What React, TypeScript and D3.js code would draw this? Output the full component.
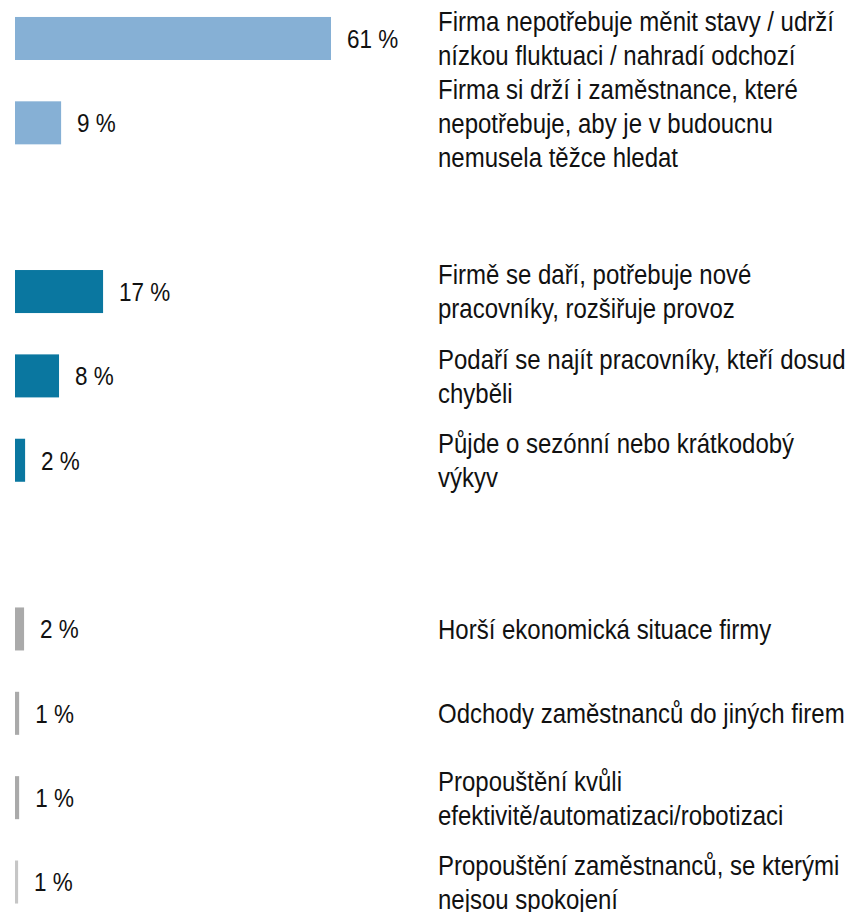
import React from "react";
import * as d3 from "d3";

const slots = ["c1", "c2", "gap1", "c3", "c4", "c5", "gap2", "c6", "c7", "c8", "c9"];
const categories = ["c1", "c2", "c3", "c4", "c5", "c6", "c7", "c8", "c9"];
const values = [61, 8.9, 17, 8.5, 1.95, 1.75, 0.8, 0.8, 0.6];
const valueLabels = ["61 %", "9 %", "17 %", "8 %", "2 %", "2 %", "1 %", "1 %", "1 %"];
const groups = ["stable", "stable", "growth", "growth", "growth", "decline", "decline", "decline", "decline2"];
const labels = [
  "Firma nepotřebuje měnit stavy / udrží\nnízkou fluktuaci / nahradí odchozí",
  "Firma si drží i zaměstnance, které\nnepotřebuje, aby je v budoucnu\nnemusela těžce hledat",
  "Firmě se daří, potřebuje nové\npracovníky, rozšiřuje provoz",
  "Podaří se najít pracovníky, kteří dosud\nchyběli",
  "Půjde o sezónní nebo krátkodobý\nvýkyv",
  "Horší ekonomická situace firmy",
  "Odchody zaměstnanců do jiných firem",
  "Propouštění kvůli\nefektivitě/automatizaci/robotizaci",
  "Propouštění zaměstnanců, se kterými\nnejsou spokojení",
];

const colors: Record<string, string> = {
  stable: "#86B0D5",
  growth: "#0A77A0",
  decline: "#AAAAAA",
  decline2: "#C6C6C6",
};

const W = 851;
const H = 912;

export default function App() {
  const y = d3
    .scaleBand<string>()
    .domain(slots)
    .range([-3.7, 924.2])
    .paddingInner(0.49)
    .paddingOuter(0.245);
  const x = d3.scaleLinear().domain([0, 61]).range([15, 331]);
  const labelX = 438;
  const lineH = 34;
  const sy = 1.18;
  const font = "'Liberation Sans', Arial, Helvetica, sans-serif";

  return (
    <div style={{ position: "absolute", left: 0, top: 0 }}>
      <svg width={W} height={H} style={{ display: "block", background: "#fff" }}>
        {categories.map((c, i) => {
          const y0 = y(c)!;
          const cy = y0 + y.bandwidth() / 2;
          const lines = labels[i].split("\n");
          return (
            <g key={c}>
              <rect
                x={x(0)}
                y={y0}
                width={x(values[i]) - x(0)}
                height={y.bandwidth()}
                fill={colors[groups[i]]}
              />
              <g transform={`translate(${x(values[i]) + 16},${cy}) scale(1,${sy})`}>
                <text x={0} y={0} dy="0.35em" fontFamily={font} fontSize={22.5} fill="#111">
                  {valueLabels[i]}
                </text>
              </g>
              <g transform={`translate(${labelX},${cy}) scale(1,${sy})`}>
                <text fontFamily={font} fontSize={24} fill="#111">
                  {lines.map((l, j) => (
                    <tspan
                      key={j}
                      x={0}
                      y={((j - (lines.length - 1) / 2) * lineH) / sy}
                      dy="0.35em"
                    >
                      {l}
                    </tspan>
                  ))}
                </text>
              </g>
            </g>
          );
        })}
      </svg>
    </div>
  );
}
